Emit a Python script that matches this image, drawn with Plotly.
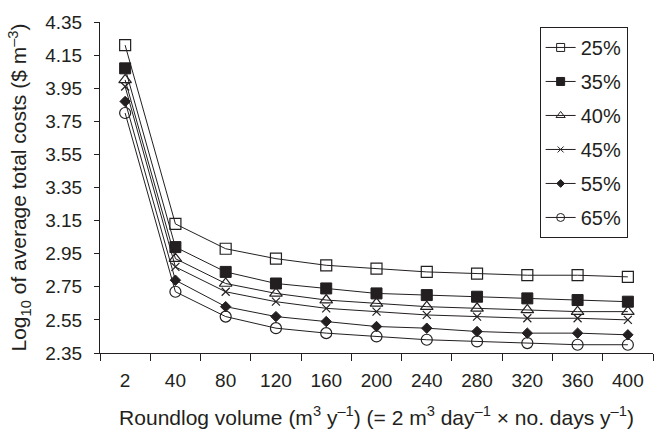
import plotly.graph_objects as go

categories = ["2", "40", "80", "120", "160", "200", "240", "280", "320", "360", "400"]
series_names = ["25%", "35%", "40%", "45%", "55%", "65%"]
s25 = [4.21, 3.13, 2.98, 2.92, 2.88, 2.86, 2.84, 2.83, 2.82, 2.82, 2.81]
s35 = [4.07, 2.99, 2.84, 2.77, 2.74, 2.71, 2.70, 2.69, 2.68, 2.67, 2.66]
s40 = [4.00, 2.92, 2.77, 2.71, 2.67, 2.65, 2.63, 2.62, 2.61, 2.60, 2.60]
s45 = [3.96, 2.87, 2.72, 2.66, 2.62, 2.60, 2.58, 2.57, 2.56, 2.56, 2.55]
s55 = [3.87, 2.79, 2.63, 2.57, 2.54, 2.51, 2.50, 2.48, 2.47, 2.47, 2.46]
s65 = [3.80, 2.72, 2.57, 2.50, 2.47, 2.45, 2.43, 2.42, 2.41, 2.40, 2.40]
y_ticks = [2.35, 2.55, 2.75, 2.95, 3.15, 3.35, 3.55, 3.75, 3.95, 4.15, 4.35]

INK = "#231f20"
FONT = "Liberation Sans, Arial, sans-serif"

styles = [
    dict(symbol="square-open", size=11, color=INK, line=dict(width=1.2, color=INK)),
    dict(symbol="square", size=11, color=INK, line=dict(width=1, color=INK)),
    dict(symbol="triangle-up-open", size=11, color=INK, line=dict(width=1.2, color=INK)),
    dict(symbol="x-thin-open", size=8, color=INK, line=dict(width=1.2, color=INK)),
    dict(symbol="diamond", size=8, color=INK, line=dict(width=1, color=INK)),
    dict(symbol="circle-open", size=11, color=INK, line=dict(width=1.2, color=INK)),
]
legend_styles = [
    dict(symbol="square-open", size=8, color=INK, line=dict(width=1, color=INK)),
    dict(symbol="square", size=8, color=INK, line=dict(width=1, color=INK)),
    dict(symbol="triangle-up-open", size=8, color=INK, line=dict(width=1, color=INK)),
    dict(symbol="x-thin-open", size=6, color=INK, line=dict(width=1, color=INK)),
    dict(symbol="diamond", size=6, color=INK, line=dict(width=1, color=INK)),
    dict(symbol="circle-open", size=8, color=INK, line=dict(width=1, color=INK)),
]

data = [s25, s35, s40, s45, s55, s65]

fig = go.Figure()
for name, vals, st in zip(series_names, data, styles):
    fig.add_trace(go.Scatter(
        x=categories, y=vals, mode="lines+markers", name=name,
        line=dict(color=INK, width=1), marker=st, showlegend=False,
        cliponaxis=False,
    ))
for name, st in zip(series_names, legend_styles):
    fig.add_trace(go.Scatter(
        x=[None], y=[None], mode="lines+markers", name=name,
        line=dict(color=INK, width=1), marker=st, showlegend=True,
        legendgroup=name,
    ))

fig.update_layout(
    width=671, height=441,
    margin=dict(l=100, r=18, t=15, b=88),
    paper_bgcolor="white", plot_bgcolor="white",
    font=dict(family=FONT, size=19, color=INK),
    legend=dict(
        x=0.795, y=0.985, xanchor="left", yanchor="top",
        bordercolor=INK, borderwidth=1, bgcolor="white",
        font=dict(size=20, color=INK),
        traceorder="grouped", tracegroupgap=5,
    ),
    xaxis=dict(
        type="category", categoryorder="array", categoryarray=categories,
        tickson="boundaries", ticks="outside", ticklen=7, tickcolor=INK, tickwidth=1,
        showline=True, linecolor=INK, linewidth=1, showgrid=False, zeroline=False,
        range=[-0.5, len(categories) - 0.5],
        tickfont=dict(size=19), ticklabelstandoff=10,
        title=dict(text="Roundlog volume (m<sup>3</sup> y<sup>–1</sup>) (= 2 m<sup>3</sup> day<sup>–1</sup> × no. days y<sup>–1</sup>)",
                   font=dict(size=21), standoff=20),
    ),
    yaxis=dict(
        range=[2.35, 4.35], tickmode="array", tickvals=y_ticks,
        ticktext=[f"{v:.2f}" for v in y_ticks],
        ticks="outside", ticklen=5, tickcolor=INK, tickwidth=1,
        showline=True, linecolor=INK, linewidth=1, showgrid=False, zeroline=False,
        tickfont=dict(size=19), ticklabelstandoff=8,
        title=dict(text="Log<sub>10</sub> of average total costs ($ m<sup>–3</sup>)",
                   font=dict(size=21), standoff=12),
    ),
)

fig.write_html("out.html")
